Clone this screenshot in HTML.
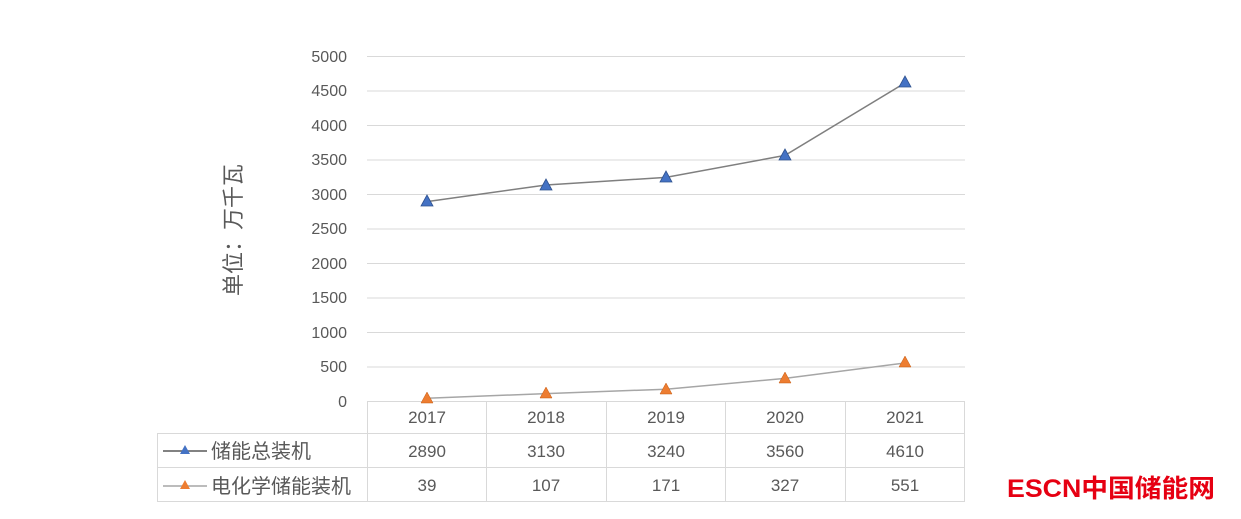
<!DOCTYPE html>
<html><head><meta charset="utf-8"><style>
html,body{margin:0;padding:0;background:#fff;}
</style></head><body>
<svg width="1241" height="514" xmlns="http://www.w3.org/2000/svg" font-family="Liberation Sans, Noto Sans CJK SC, sans-serif">
<rect width="1241" height="514" fill="#fff"/>
<g stroke="#d9d9d9" stroke-width="1">
<line x1="367" y1="56.5" x2="965" y2="56.5"/>
<line x1="367" y1="91" x2="965" y2="91"/>
<line x1="367" y1="125.5" x2="965" y2="125.5"/>
<line x1="367" y1="160" x2="965" y2="160"/>
<line x1="367" y1="194.5" x2="965" y2="194.5"/>
<line x1="367" y1="229" x2="965" y2="229"/>
<line x1="367" y1="263.5" x2="965" y2="263.5"/>
<line x1="367" y1="298" x2="965" y2="298"/>
<line x1="367" y1="332.5" x2="965" y2="332.5"/>
<line x1="367" y1="367" x2="965" y2="367"/>
<line x1="367" y1="401.5" x2="965" y2="401.5"/>
<line x1="157" y1="433.5" x2="965" y2="433.5"/>
<line x1="157" y1="467.5" x2="965" y2="467.5"/>
<line x1="157" y1="501.5" x2="965" y2="501.5"/>
<line x1="157.5" y1="433" x2="157.5" y2="501"/>
<line x1="367.5" y1="401" x2="367.5" y2="501"/>
<line x1="486.5" y1="401" x2="486.5" y2="501"/>
<line x1="606.5" y1="401" x2="606.5" y2="501"/>
<line x1="725.5" y1="401" x2="725.5" y2="501"/>
<line x1="845.5" y1="401" x2="845.5" y2="501"/>
<line x1="964.5" y1="401" x2="964.5" y2="501"/>
</g>
<g font-size="16" fill="#595959" text-anchor="end">
<text x="347" y="62">5000</text><text x="347" y="96">4500</text><text x="347" y="131">4000</text>
<text x="347" y="165">3500</text><text x="347" y="200">3000</text><text x="347" y="234">2500</text>
<text x="347" y="269">2000</text><text x="347" y="303">1500</text><text x="347" y="338">1000</text>
<text x="347" y="372">500</text><text x="347" y="407">0</text>
</g>
<text transform="translate(241,230) rotate(-90)" font-size="22" fill="#595959" text-anchor="middle">单位：万千瓦</text>
<polyline points="427,201.6 546,185 666,177.4 785,155.4 905,82.9" fill="none" stroke="#7f7f7f" stroke-width="1.5"/>
<polyline points="427,398.3 546,393.6 666,389.2 785,378.4 905,363" fill="none" stroke="#a6a6a6" stroke-width="1.5"/>
<g fill="#4472c4" stroke="#2f528f" stroke-width="0.8">
<path d="M427,195 l-6,11 h12z"/><path d="M546,179 l-6,11 h12z"/><path d="M666,171 l-6,11 h12z"/><path d="M785,149 l-6,11 h12z"/><path d="M905,76 l-6,11 h12z"/>
</g>
<g fill="#ed7d31" stroke="#c55a11" stroke-width="0.5">
<path d="M427,392 l-6,11 h12z"/><path d="M546,387 l-6,11 h12z"/><path d="M666,383 l-6,11 h12z"/><path d="M785,372 l-6,11 h12z"/><path d="M905,356 l-6,11 h12z"/>
</g>
<g font-size="17" fill="#595959" text-anchor="middle">
<text x="427" y="423">2017</text><text x="546" y="423">2018</text><text x="666" y="423">2019</text><text x="785" y="423">2020</text><text x="905" y="423">2021</text>
<text x="427" y="457">2890</text><text x="546" y="457">3130</text><text x="666" y="457">3240</text><text x="785" y="457">3560</text><text x="905" y="457">4610</text>
<text x="427" y="491">39</text><text x="546" y="491">107</text><text x="666" y="491">171</text><text x="785" y="491">327</text><text x="905" y="491">551</text>
</g>
<line x1="163" y1="451" x2="207" y2="451" stroke="#595959" stroke-width="1.5"/>
<path d="M185,445 l-5,9 h10z" fill="#4472c4"/>
<line x1="163" y1="486" x2="207" y2="486" stroke="#a6a6a6" stroke-width="1.5"/>
<path d="M185,480 l-5,9 h10z" fill="#ed7d31"/>
<g font-size="20" fill="#595959">
<text x="211" y="458">储能总装机</text>
<text x="211" y="493">电化学储能装机</text>
</g>
<text x="1007" y="497" font-size="25" font-weight="bold" fill="#e60012" textLength="208" lengthAdjust="spacingAndGlyphs">ESCN中国储能网</text>
</svg>
</body></html>
